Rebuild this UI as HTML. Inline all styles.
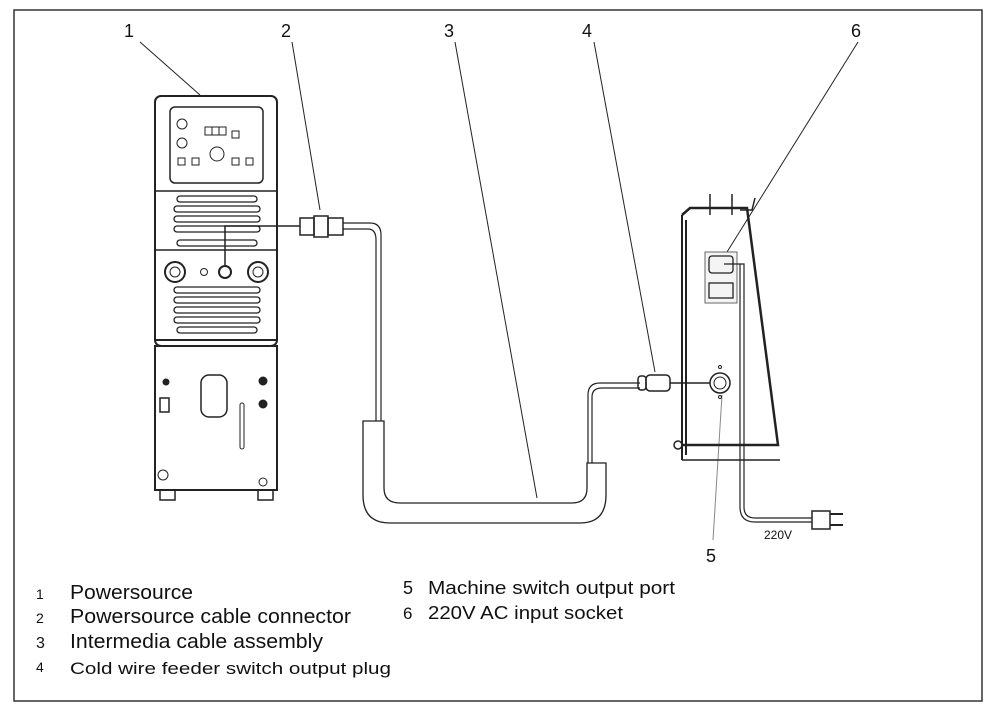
<!DOCTYPE html>
<html><head><meta charset="utf-8"><style>
html,body{margin:0;padding:0;background:#fff;}
svg{display:block;}
text{font-family:"Liberation Sans",sans-serif;fill:#111;}
</style></head><body>
<svg width="1000" height="713" viewBox="0 0 1000 713" xmlns="http://www.w3.org/2000/svg">
<rect x="14" y="10" width="968" height="691" fill="#fff" stroke="#333" stroke-width="1.5"/>
<g stroke="#222" fill="none" stroke-width="1">
<line x1="140" y1="42" x2="200" y2="95"/>
<line x1="292" y1="42" x2="320" y2="210"/>
<line x1="455" y1="42" x2="537" y2="498"/>
<line x1="594" y1="42" x2="655" y2="372"/>
<line x1="858" y1="42" x2="727" y2="252"/>
<line x1="722" y1="395" x2="713" y2="540" stroke="#888"/>

<rect x="155" y="96" width="122" height="250" rx="6" stroke-width="2"/>
<rect x="170" y="107" width="93" height="76" rx="5" stroke-width="1.5"/>
<line x1="155" y1="191" x2="277" y2="191" stroke-width="1.5"/>
<line x1="155" y1="250" x2="277" y2="250" stroke-width="1.5"/>
<line x1="155" y1="340" x2="277" y2="340" stroke-width="2"/>
<g stroke-width="1.3">
<rect x="177" y="196" width="80" height="6" rx="3"/>
<rect x="174" y="206" width="86" height="6" rx="3"/>
<rect x="174" y="216" width="86" height="6" rx="3"/>
<rect x="174" y="226" width="86" height="6" rx="3"/>
<rect x="177" y="240" width="80" height="6" rx="3"/>
<rect x="174" y="287" width="86" height="6" rx="3"/>
<rect x="174" y="297" width="86" height="6" rx="3"/>
<rect x="174" y="307" width="86" height="6" rx="3"/>
<rect x="174" y="317" width="86" height="6" rx="3"/>
<rect x="177" y="327" width="80" height="6" rx="3"/>
</g>
<circle cx="175" cy="272" r="10" stroke-width="2"/><circle cx="175" cy="272" r="5"/>
<circle cx="258" cy="272" r="10" stroke-width="2"/><circle cx="258" cy="272" r="5"/>
<circle cx="204" cy="272" r="3.5"/>
<circle cx="225" cy="272" r="6" stroke-width="2"/>
<path d="M225 266 V226 H300" stroke-width="1.5"/>
<circle cx="182" cy="124" r="5"/><circle cx="182" cy="143" r="5"/>
<circle cx="217" cy="154" r="7"/>
<rect x="205" y="127" width="7" height="8"/><rect x="212" y="127" width="7" height="8"/><rect x="219" y="127" width="7" height="8"/>
<rect x="232" y="131" width="7" height="7"/>
<rect x="178" y="158" width="7" height="7"/><rect x="192" y="158" width="7" height="7"/><rect x="232" y="158" width="7" height="7"/><rect x="246" y="158" width="7" height="7"/>
<rect x="155" y="346" width="122" height="144" stroke-width="2"/>
<path d="M160 490 V500 H175 V490 M258 490 V500 H273 V490" stroke-width="1.5"/>
<rect x="160" y="398" width="9" height="14" stroke-width="1.5"/>
<rect x="201" y="375" width="26" height="42" rx="8" stroke-width="1.5"/>
<rect x="240" y="403" width="4" height="46" rx="2"/>
<circle cx="166" cy="382" r="3" fill="#222"/><circle cx="263" cy="381" r="4" fill="#222"/><circle cx="263" cy="404" r="4" fill="#222"/>
<circle cx="163" cy="475" r="5"/><circle cx="263" cy="482" r="4"/>

<rect x="300" y="218" width="14" height="17" stroke-width="1.5"/>
<rect x="314" y="216" width="14" height="21" stroke-width="1.5"/>
<rect x="328" y="218" width="15" height="17" stroke-width="1.5"/>
<path d="M343 223 H370 Q381 223 381 235 V421 M343 229 H368 Q376 229 376 240 V421" stroke-width="1.2"/>

<path d="M363 421 H384 V488 Q384 503 400 503 H572 Q587 503 587 488 V463 H606 V495 Q606 523 580 523 H390 Q363 523 363 495 Z" stroke-width="1.3"/>
<path d="M588 463 V395 Q588 383 600 383 H640 M592 463 V397 Q592 388 602 388 H640" stroke-width="1.2"/>
<rect x="638" y="376" width="8" height="14" rx="3" stroke-width="1.5"/>
<rect x="646" y="375" width="24" height="16" rx="4" stroke-width="1.5"/>
<line x1="670" y1="383" x2="710" y2="383" stroke-width="1.5"/>

<path d="M682 215 V460 M686 220 V455" stroke-width="2"/>
<path d="M682 215 L690 208 H747 L778 445 H682" stroke-width="2.5"/>
<path d="M682 460 H780" stroke-width="1.5"/>
<path d="M710 215 V194 M732 215 V194 M740 210 H752 L755 198" stroke-width="1.5"/>
<rect x="705" y="252" width="32" height="51" stroke="#666" fill="#f4f4f4"/>
<rect x="709" y="256" width="24" height="17" rx="3" stroke-width="1.3"/>
<rect x="709" y="283" width="24" height="15" stroke-width="1.3"/>
<path d="M724 264 H744 V507 Q744 518 755 518 H812 M740 264 V507 Q740 522 755 522 H812" stroke-width="1.2"/>
<rect x="812" y="511" width="18" height="18" stroke-width="1.5"/>
<path d="M830 514 H843 M830 525 H843" stroke-width="2"/>
<circle cx="720" cy="383" r="10" stroke-width="1.5"/><circle cx="720" cy="383" r="6"/>
<circle cx="720" cy="367" r="1.5"/><circle cx="720" cy="397" r="1.5"/>
<circle cx="678" cy="445" r="4" stroke-width="1.5"/>
</g>

<text x="124" y="37" font-size="18">1</text>
<text x="281" y="37" font-size="18">2</text>
<text x="444" y="37" font-size="18">3</text>
<text x="582" y="37" font-size="18">4</text>
<text x="851" y="37" font-size="18">6</text>
<text x="706" y="562" font-size="18">5</text>
<text x="764" y="539" font-size="12">220V</text>

<text x="36" y="599" font-size="14">1</text>
<text x="70" y="599" font-size="20" textLength="123" lengthAdjust="spacingAndGlyphs">Powersource</text>
<text x="36" y="623" font-size="14">2</text>
<text x="70" y="623" font-size="20" textLength="281" lengthAdjust="spacingAndGlyphs">Powersource cable connector</text>
<text x="36" y="648" font-size="16">3</text>
<text x="70" y="648" font-size="20" textLength="253" lengthAdjust="spacingAndGlyphs">Intermedia cable assembly</text>
<text x="36" y="672" font-size="14">4</text>
<text x="70" y="674" font-size="17" textLength="321" lengthAdjust="spacingAndGlyphs">Cold wire feeder switch output plug</text>
<text x="403" y="594" font-size="18">5</text>
<text x="428" y="594" font-size="18" textLength="247" lengthAdjust="spacingAndGlyphs">Machine switch output port</text>
<text x="403" y="619" font-size="17">6</text>
<text x="428" y="619" font-size="18" textLength="195" lengthAdjust="spacingAndGlyphs">220V AC input socket</text>
</svg>
</body></html>
